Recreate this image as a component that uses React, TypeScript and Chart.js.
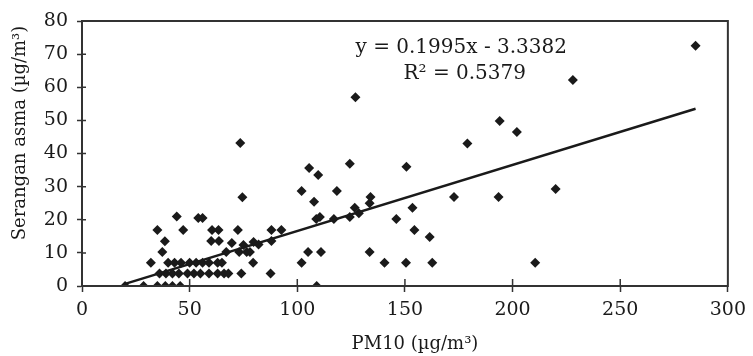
import React, { useEffect, useRef } from "react";
import { Chart, registerables } from "chart.js";

Chart.register(...registerables);

// PM10 (µg/m³) values of each observation
const pm10: number[] = [
  20, 28.6, 35, 38.7, 42, 45.6, 109,
  36, 39, 42, 45, 49, 52, 55, 59, 63, 66, 68, 74, 87.6,
  32, 40, 43, 46, 50, 53, 56, 59, 63, 65, 79.5, 102, 140.5, 150.5, 162.7, 210.5,
  37.3, 67, 73, 76.5, 78, 105, 111, 133.6,
  75, 79.7, 38.5, 60, 63.6, 69.6, 88, 82,
  161.5,
  35, 47, 60.4, 63.4, 72.4, 88, 92.6, 154.4,
  44, 54, 56, 108.8, 110.5, 117, 124.4, 146,
  126.7, 128.6, 153.5, 133.6,
  107.8, 74.5, 134, 172.8, 193.5,
  102, 118.4, 220,
  105.5, 109.7, 124.4, 150.7,
  73.5, 179, 202, 194, 127, 228, 285,
];

// Serangan asma values of each observation
const serangan: number[] = [
  0, 0, 0, 0, 0, 0, 0,
  3.8, 3.8, 3.8, 3.8, 3.8, 3.8, 3.8, 3.8, 3.8, 3.8, 3.8, 3.8, 3.8,
  7, 7, 7, 7, 7, 7, 7, 7, 7, 7, 7, 7, 7, 7, 7, 7,
  10.3, 10.3, 10.3, 10.3, 10.3, 10.3, 10.3, 10.3,
  12.4, 13.3, 13.5, 13.6, 13.6, 13, 13.6, 12.5,
  14.8,
  16.9, 16.9, 16.9, 16.9, 16.9, 16.9, 16.9, 16.9,
  21, 20.5, 20.5, 20.2, 20.8, 20.2, 20.8, 20.2,
  23.6, 22, 23.6, 25,
  25.4, 26.8, 26.9, 26.9, 26.9,
  28.7, 28.7, 29.3,
  35.6, 33.5, 36.9, 36,
  43.2, 43, 46.5, 49.8, 57, 62.2, 72.5,
];

const slope = 0.1995;
const intercept = -3.3382;

const xTicks: number[] = [0, 50, 100, 150, 200, 250, 300];
const yTicks: number[] = [0, 10, 20, 30, 40, 50, 60, 70, 80];

const xTitle = "PM10 (µg/m³)";
const yTitle = "Serangan asma (µg/m³)";
const eqText = "y = 0.1995x - 3.3382";
const r2Text = "R² = 0.5379";

const FONT = "'DejaVu Serif', serif";
const INK = "#1a1a1a";

export default function App() {
  const ref = useRef<HTMLCanvasElement | null>(null);

  useEffect(() => {
    if (!ref.current) return;
    const points = pm10.map((x, i) => ({ x, y: serangan[i] }));
    const xMin = Math.min(...pm10);
    const xMax = Math.max(...pm10);
    const fit = [
      { x: xMin, y: slope * xMin + intercept },
      { x: xMax, y: slope * xMax + intercept },
    ];

    const decor = {
      id: "decor",
      afterDraw(chart: any) {
        const { ctx, chartArea } = chart;
        const xs = chart.scales.x;
        const ys = chart.scales.y;
        ctx.save();
        ctx.strokeStyle = "#333";
        ctx.lineWidth = 2;
        ctx.strokeRect(chartArea.left, chartArea.top, chartArea.right - chartArea.left, chartArea.bottom - chartArea.top);
        // inner tick marks
        ctx.lineWidth = 1.5;
        ctx.beginPath();
        for (const t of xTicks) {
          if (t === 0 || t === 300) continue;
          const px = xs.getPixelForValue(t);
          ctx.moveTo(px, chartArea.bottom);
          ctx.lineTo(px, chartArea.bottom - 7);
        }
        for (const t of yTicks) {
          if (t === 0 || t === 80) continue;
          const py = ys.getPixelForValue(t);
          ctx.moveTo(chartArea.left, py);
          ctx.lineTo(chartArea.left + 4, py);
        }
        ctx.stroke();
        // titles
        ctx.fillStyle = INK;
        ctx.font = `18px ${FONT}`;
        ctx.textAlign = "center";
        ctx.textBaseline = "middle";
        ctx.fillText(xTitle, 415, 344);
        ctx.save();
        ctx.translate(20, 133);
        ctx.rotate(-Math.PI / 2);
        ctx.fillText(yTitle, 0, 0);
        ctx.restore();
        // equation
        ctx.font = `20px ${FONT}`;
        ctx.textAlign = "right";
        ctx.fillText(eqText, 567, 48);
        ctx.fillText(r2Text, 526, 74);
        ctx.restore();
      },
    };

    const chart = new Chart(ref.current, {
      type: "scatter",
      data: {
        datasets: [
          {
            type: "scatter",
            label: "data",
            data: points,
            pointStyle: "rectRot",
            pointRadius: 5,
            backgroundColor: INK,
            borderColor: INK,
            borderWidth: 0,
            order: 2,
          },
          {
            type: "line",
            label: "fit",
            data: fit,
            borderColor: INK,
            borderWidth: 2.5,
            pointRadius: 0,
            fill: false,
            order: 1,
          } as any,
        ],
      },
      options: {
        responsive: false,
        animation: false,
        layout: { padding: { top: 21, right: 20, left: 0, bottom: 0 } },
        plugins: { legend: { display: false }, tooltip: { enabled: false } },
        scales: {
          x: {
            type: "linear",
            min: 0,
            max: 300,
            afterBuildTicks(scale: any) {
              scale.ticks = xTicks.map((v) => ({ value: v }));
            },
            afterFit(scale: any) {
              scale.height = 70;
            },
            grid: { drawOnChartArea: false, drawTicks: true, tickLength: 6, color: "#333", tickWidth: 1.5 },
            border: { display: true, color: "#333", width: 2 },
            ticks: { color: INK, font: { family: FONT, size: 19 }, padding: 7, maxRotation: 0 },
          },
          y: {
            type: "linear",
            min: 0,
            max: 80,
            afterBuildTicks(scale: any) {
              scale.ticks = yTicks.map((v) => ({ value: v }));
            },
            afterFit(scale: any) {
              scale.width = 82;
            },
            grid: { drawOnChartArea: false, drawTicks: true, tickLength: 5, color: "#333", tickWidth: 1.5 },
            border: { display: true, color: "#333", width: 2 },
            ticks: { color: INK, font: { family: FONT, size: 19 }, padding: 9 },
          },
        },
      },
      plugins: [decor],
    });
    return () => chart.destroy();
  }, []);

  return (
    <div style={{ position: "fixed", left: 0, top: 0, width: 753, height: 356, background: "#fff" }}>
      <canvas ref={ref} width={753} height={356} style={{ width: 753, height: 356 }} />
    </div>
  );
}
